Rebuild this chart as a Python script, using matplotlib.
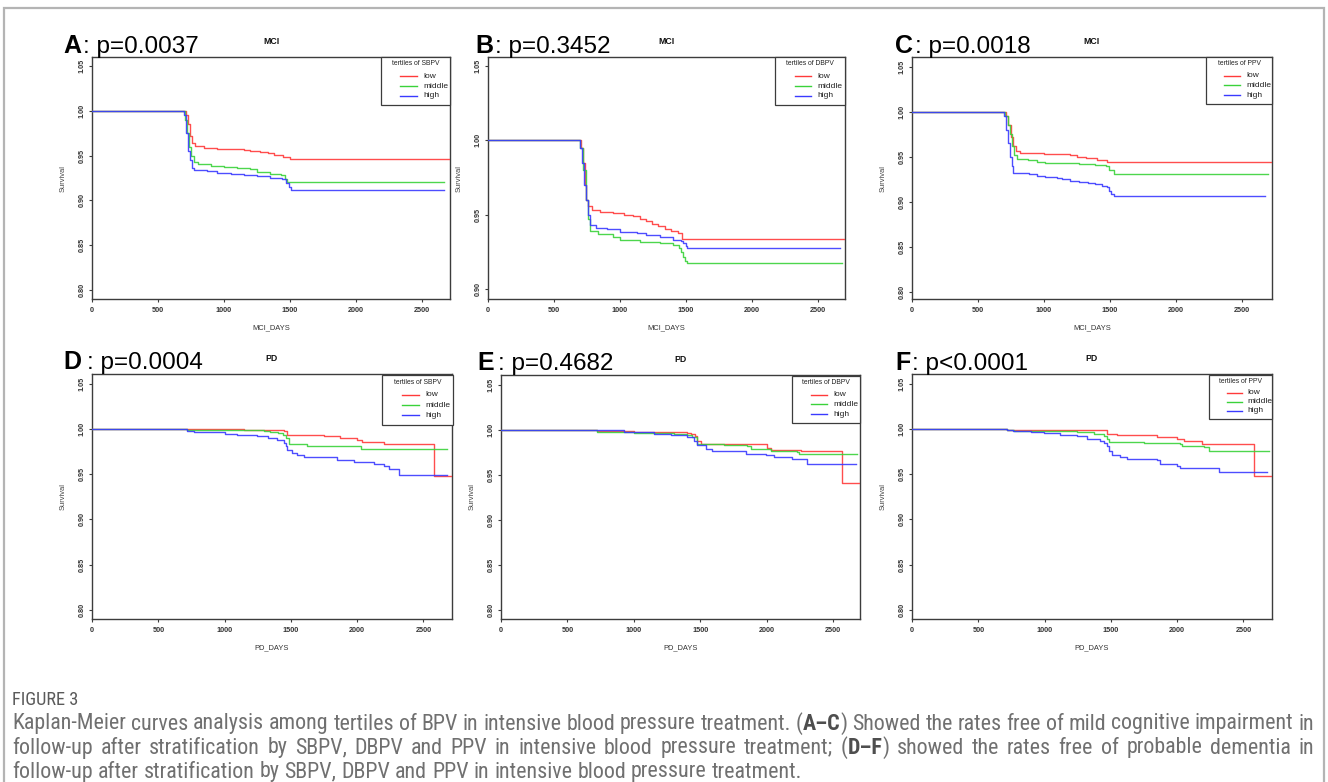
import matplotlib
matplotlib.use("Agg")
import matplotlib.pyplot as plt
from matplotlib import font_manager
from matplotlib.patches import Rectangle
from matplotlib.lines import Line2D
from matplotlib.text import Annotation

# ---------------------------------------------------------------- data
GROUPS = ["low", "middle", "high"]
PANEL_LETTERS = ["A", "B", "C", "D", "E", "F"]
P_VALUES = ["p=0.0037", "p=0.3452", "p=0.0018", "p=0.0004", "p=0.4682", "p<0.0001"]
OUTCOMES = ["MCI", "MCI", "MCI", "PD", "PD", "PD"]
X_LABELS = ["MCI_DAYS", "MCI_DAYS", "MCI_DAYS", "PD_DAYS", "PD_DAYS", "PD_DAYS"]
LEGEND_TITLES = ["tertiles of SBPV", "tertiles of DBPV", "tertiles of PPV",
                 "tertiles of SBPV", "tertiles of DBPV", "tertiles of PPV"]
X_TICKS = [0, 500, 1000, 1500, 2000, 2500]
Y_TICKS_FULL = [0.80, 0.85, 0.90, 0.95, 1.00, 1.05]
Y_TICKS_B = [0.90, 0.95, 1.00, 1.05]

# Panel A (MCI, SBPV)
a_low_t = [0, 700, 715, 730, 745, 760, 780, 850, 950, 1050, 1150, 1200, 1270, 1330, 1380, 1450, 1500, 2714]
a_low_s = [1.0, 1.0, 0.995, 0.985, 0.972, 0.964, 0.961, 0.959, 0.958, 0.957, 0.956, 0.955, 0.954, 0.953, 0.951, 0.949, 0.946, 0.946]
a_mid_t = [0, 690, 705, 720, 735, 750, 770, 800, 900, 1000, 1100, 1200, 1250, 1350, 1430, 1460, 1480, 2664]
a_mid_s = [1.0, 1.0, 0.99, 0.975, 0.96, 0.95, 0.943, 0.941, 0.9385, 0.937, 0.936, 0.9355, 0.932, 0.930, 0.928, 0.924, 0.9205, 0.9205]
a_high_t = [0, 690, 700, 715, 730, 745, 760, 770, 870, 950, 1050, 1150, 1250, 1350, 1440, 1470, 1490, 1505, 2664]
a_high_s = [1.0, 1.0, 0.995, 0.975, 0.955, 0.945, 0.936, 0.934, 0.9325, 0.9305, 0.929, 0.928, 0.927, 0.925, 0.9236, 0.92, 0.915, 0.9116, 0.9116]

# Panel B (MCI, DBPV)
b_low_t = [0, 690, 705, 720, 735, 745, 760, 790, 850, 950, 1030, 1100, 1150, 1200, 1240, 1290, 1340, 1390, 1440, 1470, 2714]
b_low_s = [1.0, 1.0, 0.995, 0.985, 0.97, 0.96, 0.956, 0.953, 0.952, 0.951, 0.950, 0.949, 0.9475, 0.946, 0.944, 0.9425, 0.9405, 0.939, 0.938, 0.9337, 0.9337]
b_mid_t = [0, 680, 700, 720, 740, 760, 775, 830, 900, 950, 1000, 1150, 1300, 1400, 1450, 1465, 1480, 1495, 1507, 2681]
b_mid_s = [1.0, 1.0, 0.995, 0.98, 0.96, 0.947, 0.939, 0.9375, 0.937, 0.935, 0.933, 0.9315, 0.931, 0.930, 0.928, 0.925, 0.922, 0.919, 0.9176, 0.9176]
b_high_t = [0, 685, 700, 715, 730, 745, 760, 775, 820, 900, 1000, 1130, 1200, 1300, 1400, 1460, 1480, 1500, 1510, 2669]
b_high_s = [1.0, 1.0, 0.995, 0.985, 0.97, 0.96, 0.95, 0.943, 0.9415, 0.9403, 0.9385, 0.9376, 0.9368, 0.9355, 0.9332, 0.9325, 0.931, 0.929, 0.928, 0.928]

# Panel C (MCI, PPV)
c_low_t = [0, 690, 710, 730, 750, 765, 785, 820, 1000, 1100, 1200, 1250, 1320, 1400, 1480, 2727]
c_low_s = [1.0, 1.0, 0.995, 0.985, 0.972, 0.962, 0.956, 0.9537, 0.953, 0.9525, 0.9515, 0.95, 0.9482, 0.946, 0.9438, 0.9438]
c_mid_t = [0, 685, 705, 725, 745, 760, 775, 795, 880, 950, 1010, 1150, 1263, 1389, 1470, 1495, 1530, 2699]
c_mid_s = [1.0, 1.0, 0.995, 0.985, 0.975, 0.962, 0.952, 0.947, 0.9463, 0.9445, 0.9433, 0.9425, 0.942, 0.941, 0.9393, 0.9352, 0.9304, 0.9304]
c_high_t = [0, 680, 700, 715, 730, 742, 755, 768, 884, 950, 1010, 1100, 1136, 1200, 1263, 1330, 1389, 1440, 1475, 1495, 1510, 1533, 2674]
c_high_s = [1.0, 1.0, 0.995, 0.98, 0.965, 0.95, 0.94, 0.9316, 0.9309, 0.929, 0.928, 0.926, 0.9249, 0.9235, 0.9222, 0.921, 0.9196, 0.918, 0.9167, 0.912, 0.909, 0.9067, 0.9067]

# Panel D (PD, SBPV)
d_low_t = [0, 700, 720, 1150, 1300, 1450, 1470, 1620, 1750, 1870, 2000, 2040, 2200, 2577, 2715]
d_low_s = [1.0, 1.0, 0.9995, 0.9993, 0.9986, 0.998, 0.9937, 0.993, 0.9919, 0.990, 0.9883, 0.986, 0.9835, 0.9479, 0.9479]
d_mid_t = [0, 700, 720, 1300, 1345, 1400, 1440, 1460, 1483, 1620, 2030, 2677]
d_mid_s = [1.0, 1.0, 0.9985, 0.998, 0.997, 0.9956, 0.993, 0.990, 0.9838, 0.981, 0.978, 0.978]
d_high_t = [0, 700, 720, 767, 942, 1000, 1093, 1170, 1244, 1330, 1395, 1445, 1460, 1470, 1510, 1546, 1596, 1848, 1974, 2125, 2200, 2238, 2313, 2677]
d_high_s = [1.0, 1.0, 0.998, 0.997, 0.9963, 0.995, 0.9937, 0.993, 0.992, 0.990, 0.9883, 0.985, 0.981, 0.9772, 0.974, 0.9717, 0.9691, 0.9662, 0.964, 0.9617, 0.9593, 0.9555, 0.9497, 0.9497]

# Panel E (PD, DBPV)
e_low_t = [0, 700, 720, 1000, 1303, 1400, 1428, 1460, 1479, 1504, 1855, 2005, 2030, 2256, 2570, 2703]
e_low_s = [1.0, 1.0, 0.999, 0.998, 0.9974, 0.9965, 0.9956, 0.993, 0.988, 0.9846, 0.9839, 0.980, 0.978, 0.9761, 0.9413, 0.9413]
e_mid_t = [0, 700, 720, 776, 1000, 1200, 1303, 1400, 1440, 1479, 1680, 1855, 1880, 2030, 2230, 2243, 2684]
e_mid_s = [1.0, 1.0, 0.998, 0.997, 0.9965, 0.996, 0.9956, 0.994, 0.992, 0.9846, 0.9828, 0.9817, 0.979, 0.977, 0.9754, 0.9736, 0.9736]
e_high_t = [0, 700, 750, 926, 1050, 1152, 1278, 1403, 1454, 1479, 1542, 1592, 1843, 1993, 2055, 2193, 2306, 2671]
e_high_s = [1.0, 1.0, 0.9995, 0.998, 0.997, 0.9956, 0.9938, 0.992, 0.988, 0.9828, 0.979, 0.977, 0.9736, 0.9717, 0.970, 0.9673, 0.9618, 0.9618]

# Panel F (PD, PPV)
f_low_t = [0, 710, 720, 1460, 1471, 1546, 1848, 1998, 2049, 2187, 2577, 2715]
f_low_s = [1.0, 1.0, 0.9993, 0.9993, 0.9945, 0.993, 0.9912, 0.9894, 0.9872, 0.9835, 0.9479, 0.9479]
f_mid_t = [0, 700, 720, 767, 1000, 1244, 1370, 1445, 1470, 1483, 1747, 2024, 2036, 2200, 2237, 2690]
f_mid_s = [1.0, 1.0, 0.999, 0.998, 0.9975, 0.997, 0.9949, 0.992, 0.989, 0.9857, 0.9846, 0.9839, 0.9817, 0.980, 0.9754, 0.9754]
f_high_t = [0, 700, 716, 760, 900, 993, 1119, 1244, 1320, 1420, 1450, 1471, 1483, 1508, 1571, 1621, 1848, 1873, 1998, 2024, 2313, 2677]
f_high_s = [1.0, 1.0, 0.9993, 0.9974, 0.9965, 0.9956, 0.9938, 0.992, 0.989, 0.9864, 0.984, 0.981, 0.9754, 0.9717, 0.9692, 0.9673, 0.9655, 0.9618, 0.9589, 0.957, 0.9527, 0.9527]

CURVES = [
    [(a_low_t, a_low_s), (a_mid_t, a_mid_s), (a_high_t, a_high_s)],
    [(b_low_t, b_low_s), (b_mid_t, b_mid_s), (b_high_t, b_high_s)],
    [(c_low_t, c_low_s), (c_mid_t, c_mid_s), (c_high_t, c_high_s)],
    [(d_low_t, d_low_s), (d_mid_t, d_mid_s), (d_high_t, d_high_s)],
    [(e_low_t, e_low_s), (e_mid_t, e_mid_s), (e_high_t, e_high_s)],
    [(f_low_t, f_low_s), (f_mid_t, f_mid_s), (f_high_t, f_high_s)],
]

CAPTION_HEAD = "FIGURE 3"
# (text, emphasised) segments per caption line
CAPTION_LINES = [
    [("Kaplan-Meier curves analysis among tertiles of BPV in intensive blood pressure treatment. (", False),
     ("A\u2013C", True), (") Showed the rates free of mild cognitive impairment in", False)],
    [("follow-up after stratification by SBPV, DBPV and PPV in intensive blood pressure treatment; (", False),
     ("D\u2013F", True), (") showed the rates free of probable dementia in", False)],
    [("follow-up after stratification by SBPV, DBPV and PPV in intensive blood pressure treatment.", False)],
]
CAPTION_JUSTIFY = [True, True, False]

# ---------------------------------------------------------------- style / layout
W, H, DPI = 1328, 782, 100
COLORS = ["#ff3a3a", "#3ad23a", "#3a3aff"]
AXIS_C = "#3c3c3c"
PLOT_FONT = "Liberation Sans"

AX_PX = [(92, 57, 450, 299), (488, 57, 845, 299), (912, 57, 1272, 299),
         (92, 374, 452, 619), (501, 375, 860, 619), (912, 374, 1272, 619)]
XMAX = [2712, 2705, 2727, 2715, 2703, 2715]
YLIM = [(0.7897, 1.0604), (0.8936, 1.0559), (0.7919, 1.0608),
        (0.790, 1.0608), (0.790, 1.0608), (0.790, 1.0608)]
LEG_PX = [(381, 57, 450, 105), (775, 57, 845, 105), (1206, 57, 1272, 104),
          (382, 375, 453, 425), (792, 376, 860, 423), (1209, 375, 1272, 419)]
HEAD_PX = [(63, 53), (475, 53), (895, 53), (63, 369), (477, 370), (895, 370)]
HEAD_GAP = [1.2, 1.2, 1.2, 4.0, 3.0, 1.2]


def fx(x):
    return x / W


def fy(y):
    return 1 - y / H


fig = plt.figure(figsize=(W / DPI, H / DPI), dpi=DPI)
fig.patch.set_facecolor("white")

for i in range(6):
    L, T, R, B = AX_PX[i]
    ax = fig.add_axes([fx(L), fy(B), (R - L) / W, (B - T) / H])
    for (t, s), c in zip(CURVES[i], COLORS):
        ax.step(t, s, where="post", color=c, lw=1.0, alpha=0.9, zorder=3)
    ax.set_xlim(0, XMAX[i])
    ax.set_ylim(*YLIM[i])
    ax.set_xticks(X_TICKS)
    ax.set_xticklabels([str(v) for v in X_TICKS])
    yt = Y_TICKS_B if i == 1 else Y_TICKS_FULL
    ax.set_yticks(yt)
    ax.set_yticklabels(["%.2f" % v for v in yt], rotation=90, va="center")
    ax.tick_params(axis="both", direction="out", length=2.5, width=0.8,
                   color=AXIS_C, labelsize=5.2, labelcolor="#333333")
    ax.tick_params(axis="x", pad=3.0)
    ax.tick_params(axis="y", pad=2.3)
    for lab in ax.get_xticklabels() + ax.get_yticklabels():
        lab.set_fontweight("bold")
        lab.set_fontfamily(PLOT_FONT)
    for sp in ax.spines.values():
        sp.set_color(AXIS_C)
        sp.set_linewidth(1.0)
    ax.set_facecolor("white")

    cx = (L + R) / 2
    cy = (T + B) / 2
    fig.text(fx(L - 29), fy(cy), "Survival", rotation=90, ha="center", va="center",
             fontsize=5.4, color="#444444", family=PLOT_FONT)
    fig.text(fx(cx), fy(B + 29), X_LABELS[i], ha="center", va="center",
             fontsize=5.4, color="#333333", family=PLOT_FONT)
    fig.text(fx(cx), fy(T - 15), OUTCOMES[i], ha="center", va="center",
             fontsize=6.3, fontweight="bold", color="#111111", family=PLOT_FONT)

    # panel header
    hx, hy = HEAD_PX[i]
    t1 = fig.text(fx(hx), fy(hy), PANEL_LETTERS[i], fontsize=18, fontweight="bold",
                  family=PLOT_FONT, ha="left", va="baseline", color="black")
    ann = Annotation(": " + P_VALUES[i], xy=(1, 0), xycoords=t1,
                     xytext=(HEAD_GAP[i], 0), textcoords="offset points",
                     fontsize=17.5, family=PLOT_FONT, ha="left", va="bottom", color="black")
    fig.add_artist(ann)

    # legend box
    lL, lT, lR, lB = LEG_PX[i]
    w, h = lR - lL, lB - lT
    fig.add_artist(Rectangle((fx(lL), fy(lB)), w / W, h / H, transform=fig.transFigure,
                             facecolor="white", edgecolor=AXIS_C, lw=0.9, zorder=10))
    fig.text(fx(lL + w / 2), fy(lT + 0.145 * h), LEGEND_TITLES[i], ha="center", va="center",
             fontsize=4.9, color="#222222", family=PLOT_FONT, zorder=11)
    for k, (g, c) in enumerate(zip(GROUPS, COLORS)):
        yy = lT + h * (0.40 + 0.205 * k)
        fig.add_artist(Line2D([fx(lL + 0.28 * w), fx(lL + 0.52 * w)], [fy(yy), fy(yy)],
                              transform=fig.transFigure, color=c, lw=1.0, zorder=11))
        fig.text(fx(lL + 0.61 * w), fy(yy), g, ha="left", va="center",
                 fontsize=6.0, color="#222222", family=PLOT_FONT, zorder=11)

# figure frame
fig.add_artist(Rectangle((fx(4), fy(800)), 1320 / W, 792 / H, transform=fig.transFigure,
                         fill=False, edgecolor="#b4b4b4", lw=1.6, zorder=0))

# ---------------------------------------------------------------- caption
names = {f.name for f in font_manager.fontManager.ttflist}
cap_font = "DejaVu Sans"
for cand in ["Liberation Sans Narrow", "Roboto Condensed", "Open Sans Condensed", "Roboto", "Open Sans"]:
    if cand in names:
        cap_font = cand
        break

CAP_L, CAP_R = 12, 1314
FS0 = 13.0
head = fig.text(fx(CAP_L), fy(700), CAPTION_HEAD, fontsize=11, color="#5a5a5a",
                family=cap_font, ha="left", va="center")

line_y = [724, 748, 772]
lines_words = []   # per line: list of words; each word: list of text artists
all_caps = []
for parts, yv in zip(CAPTION_LINES, line_y):
    words = [[]]
    for txt, emph in parts:
        pieces = txt.split(" ")
        for k, piece in enumerate(pieces):
            if k > 0:
                words.append([])
            if piece:
                words[-1].append((piece, emph))
    words = [wd for wd in words if wd]
    arts_line = []
    for wd in words:
        arts = []
        prev = None
        for piece, emph in wd:
            col = "#4e4e4e" if emph else "#707070"
            fw = "bold" if emph else "normal"
            if prev is None:
                a = fig.text(fx(CAP_L), fy(yv), piece, fontsize=FS0, color=col, fontweight=fw,
                             family=cap_font, ha="left", va="center")
            else:
                a = Annotation(piece, xy=(1, 0), xycoords=prev, xytext=(0, 0),
                               textcoords="offset points", fontsize=FS0, color=col,
                               fontweight=fw, family=cap_font, ha="left", va="bottom")
                fig.add_artist(a)
            arts.append(a)
            all_caps.append(a)
            prev = a
        arts_line.append(arts)
    lines_words.append(arts_line)


def space_width(fs):
    p1 = fig.text(0, 0, "x x", fontsize=fs, family=cap_font)
    p2 = fig.text(0, 0, "xx", fontsize=fs, family=cap_font)
    fig.canvas.draw()
    rr = fig.canvas.get_renderer()
    sw = p1.get_window_extent(rr).width - p2.get_window_extent(rr).width
    p1.remove()
    p2.remove()
    return sw


def measure_widths():
    fig.canvas.draw()
    rr = fig.canvas.get_renderer()
    return [[wd[-1].get_window_extent(rr).x1 - wd[0].get_window_extent(rr).x0 for wd in ln]
            for ln in lines_words]


# pass 1: choose the font size so that line 1 with normal spaces fills the width
sw0 = space_width(FS0)
widths = measure_widths()
natural0 = sum(widths[0]) + sw0 * (len(widths[0]) - 1)
scale = (CAP_R - CAP_L) / natural0
fs = FS0 * scale
for a in all_caps:
    a.set_fontsize(fs)
head.set_fontsize(11 * min(scale, 1.2))

# pass 2: re-measure at the final size and justify
sw = space_width(fs)
widths = measure_widths()
for ln, wl, just in zip(lines_words, widths, CAPTION_JUSTIFY):
    if just and len(wl) > 1:
        gap = ((CAP_R - CAP_L) - sum(wl)) / (len(wl) - 1)
    else:
        gap = sw
    x = CAP_L
    for wd, ww in zip(ln, wl):
        wd[0].set_x(fx(x))
        x += ww + gap

fig.savefig("out.png", dpi=DPI, facecolor="white")
